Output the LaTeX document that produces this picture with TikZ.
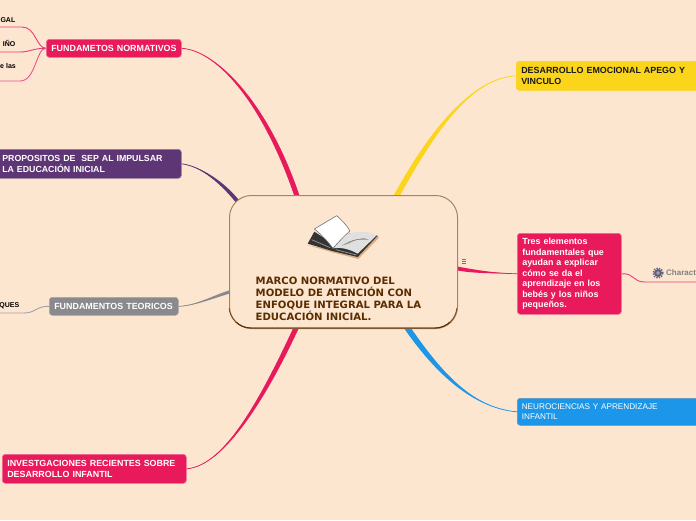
\documentclass[tikz,border=0pt]{standalone}
\usepackage{fontspec}
\setmainfont{Liberation Sans}
\newfontfamily\hubfont{DejaVu Sans}
\usetikzlibrary{calc}
\definecolor{bgc}{HTML}{FDE6D0}
\definecolor{pinkc}{HTML}{E81A5C}
\definecolor{purplec}{HTML}{5E3575}
\definecolor{grayc}{HTML}{8A8A8E}
\definecolor{yellowc}{HTML}{FBD51C}
\definecolor{bluec}{HTML}{1B96E8}
\definecolor{hubdark}{HTML}{5A2D00}
\definecolor{hublight}{HTML}{A8835C}
\pgfdeclarelayer{bg}
\pgfsetlayers{bg,main}
\newcommand{\taper}[7]{%
  \fill[#1] (#2) .. controls #3 and ($#4+(#6,#7)$) .. ($(#5)+(#6,#7)$)
     -- ($(#5)-(#6,#7)$) .. controls ($#4-(#6,#7)$) and #3 .. (#2) -- cycle;
  \draw[#1,line width=.7pt] (#2) .. controls #3 and #4 .. (#5);
}
\tikzset{
  topic/.style={rectangle,rounded corners=3pt,anchor=north west,inner xsep=5pt,inner ysep=0pt,
    align=left,font=\fontsize{8.9}{10.6}\selectfont\bfseries,text=white,line width=.6pt},
  leaf/.style={anchor=east,inner sep=0pt,font=\fontsize{7}{8}\selectfont\bfseries,text=black},
  subline/.style={line width=.9pt}
}
\begin{document}
\begin{tikzpicture}[x=1pt,y=-1pt]
\begin{pgfonlayer}{bg}
\fill[bgc] (0,0) rectangle (696,520);
\end{pgfonlayer}
\path[use as bounding box,clip] (0,0) rectangle (696,520);
% hub
\node[rectangle,rounded corners=22pt,draw=hublight,fill=bgc,line width=1pt,anchor=north west,
  minimum width=228pt,minimum height=133pt,inner sep=0pt] (hub) at (229,195) {};
\begin{scope}
\clip (225,308) rectangle (461,332);
\draw[hubdark!60!hublight,line width=.9pt,rounded corners=22pt] (229,195) rectangle (457,328);
\clip (225,322) rectangle (461,332);
\draw[hubdark,line width=.9pt,rounded corners=22pt] (229,195) rectangle (457,328);
\end{scope}
\node[anchor=north west,inner sep=0pt,align=left,text=hubdark,
  font=\hubfont\fontsize{10.1}{12}\selectfont\bfseries] (title) at (255.5,277)
  {MARCO NORMATIVO DEL\\MODELO DE ATENCIÓN CON\\ENFOQUE INTEGRAL PARA LA\\EDUCACIÓN INICIAL.};
% book
\begin{scope}[shift={(295,205)},x=.3333pt,y=-.3333pt]
\fill[brown!55!bgc] (36,120) -- (112,142) -- (190,162) -- (252,98) -- (246,90) -- (190,150) -- cycle;
\fill[black!80] (38,116) -- (58,80) -- (120,120) -- (165,85) -- (248,92) -- (188,156) -- (112,138) -- cycle;
\draw[black!40,line width=.7pt] (50,104) -- (106,128);
\draw[black!40,line width=.7pt] (122,134) -- (184,150);
\fill[black!12] (115,130) .. controls (135,105) and (150,90) .. (168,84) .. controls (190,78) and (225,78) .. (244,92) -- (188,146) .. controls (165,133) and (140,126) .. (115,130) -- cycle;
\foreach \d in {0,7,14,21}
  \draw[black!45,line width=.35pt] (142+\d*.9,122-\d*.3) .. controls (160+\d*.9,108-\d*.3) and (180+\d*.9,104-\d*.2) .. (210+\d*.5,100+\d*.2);
\fill[white,draw=black!55,line width=.6pt,line join=round] (58,72) -- (125,32) .. controls (140,45) and (155,60) .. (165,78) .. controls (145,95) and (130,112) .. (114,130) .. controls (95,105) and (78,88) .. (58,72) -- cycle;
\end{scope}
% topic nodes
\node[topic,fill=pinkc,draw=pinkc!65!white,text width=125pt,minimum height=18pt] (fn) at (46,39) {\mbox{FUNDAMETOS NORMATIVOS}};
\node[topic,fill=purplec,draw=purplec!65!white,text width=172pt,minimum height=29pt,inner xsep=7pt,font=\fontsize{8.8}{10.6}\selectfont\bfseries] (pr) at (-5,149) {PROPOSITOS DE \ SEP AL IMPULSAR\\LA EDUCACIÓN INICIAL};
\node[topic,fill=grayc,draw=grayc!75!white,text width=119pt,minimum height=18pt] (ft) at (49,297) {\mbox{FUNDAMENTOS TEORICOS}};
\node[topic,fill=pinkc,draw=pinkc!65!white,text width=174pt,minimum height=29pt] (in) at (2,454) {\mbox{INVESTGACIONES RECIENTES SOBRE}\\DESARROLLO INFANTIL};
\node[topic,fill=yellowc,draw=yellowc,text=black!90,text width=180pt,minimum height=29pt,inner xsep=5pt] (de) at (516,61) {\mbox{DESARROLLO EMOCIONAL APEGO Y}\\VINCULO};
\node[topic,fill=pinkc,draw=pinkc!65!white,text width=94pt,minimum height=81pt,inner xsep=5pt,
  font=\fontsize{8.9}{10.5}\selectfont\bfseries] (tr) at (517,233)
  {Tres elementos\\fundamentales que\\ayudan a explicar\\cómo se da el\\aprendizaje en los\\bebés y los niños\\pequeños.};
\node[topic,fill=bluec,draw=bluec!70!black!70!white,text width=180pt,minimum height=27pt,inner xsep=4.5pt,
  font=\fontsize{8.2}{10}\selectfont] (ne) at (517,398) {NEUROCIENCIAS Y APRENDIZAJE\\INFANTIL};
% leaf texts
\node[leaf] (l1) at (15.5,20) {GAL};
\node[leaf] (l2) at (15.5,43) {IÑO};
\node[leaf] (l3) at (16,66) {e las};
\node[leaf] (l4) at (19.5,305.5) {QUES};
\node[anchor=west,inner sep=0pt,text=black!50,font=\fontsize{8}{9}\selectfont\bfseries] (ch) at (666,273) {Charact};
% hamburger
\draw[black!55,line width=.7pt] (461.5,259.5) -- (465.5,259.5) (461.5,261.5) -- (465.5,261.5) (461.5,263.5) -- (465.5,263.5);
% gear
\fill[black!50!blue!25!gray] (658,273) circle (4pt);
\draw[black!50!blue!25!gray,line width=1.6pt,dash pattern=on 1.3pt off 1.3pt] (658,273) circle (4.9pt);
\fill[black!15!gray!60!white] (658,273) circle (1.8pt);
% free ends and hub ends
\coordinate (e1) at (0,27);
\coordinate (e2) at (0,52);
\coordinate (e3) at (0,81);
\coordinate (e4) at (0,313);
\coordinate (e5) at (696,282);
\coordinate (h1) at (298,199);
\coordinate (h2) at (238,202);
\coordinate (h3) at (231,291.5);
\coordinate (h4) at (297,326);
\coordinate (h5) at (396,197);
\coordinate (h6) at (455,268);
\coordinate (h7) at (406,326);
\begin{pgfonlayer}{bg}
\taper{pinkc}{fn.east}{(215,50)}{(265,100)}{h1}{2.4}{-.8}
\taper{purplec}{pr.east}{(200,166)}{(222,182)}{h2}{1.5}{-1.2}
\taper{grayc}{ft.east}{(195,306)}{(215,296)}{h3}{.4}{-1.8}
\taper{pinkc}{in.east}{(225,466)}{(265,395)}{h4}{2.4}{.9}
\taper{yellowc}{de.west}{(470,78)}{(430,135)}{h5}{2.4}{1.4}
\taper{pinkc}{tr.west}{(495,273)}{(475,272)}{h6}{0}{-2}
\taper{bluec}{ne.west}{(470,408)}{(435,368)}{h7}{2.4}{-1.6}
\draw[pinkc!85!white,subline] (fn.west) .. controls (36,48) and (36,27) .. (22,27) -- (e1);
\draw[pinkc!85!white,subline] (fn.west) .. controls (34,48) and (30,52) .. (20,52) -- (e2);
\draw[pinkc!75!white,subline] (fn.west) .. controls (36,48) and (36,81) .. (20,81) -- (e3);
\draw[grayc!80!white,subline] (ft.west) .. controls (36,306) and (36,313) .. (24,313) -- (e4);
\draw[pinkc!85!white,subline] (tr.east) .. controls (635,273) and (632,282) .. (645,282) -- (e5);
\end{pgfonlayer}
\end{tikzpicture}
\end{document}
